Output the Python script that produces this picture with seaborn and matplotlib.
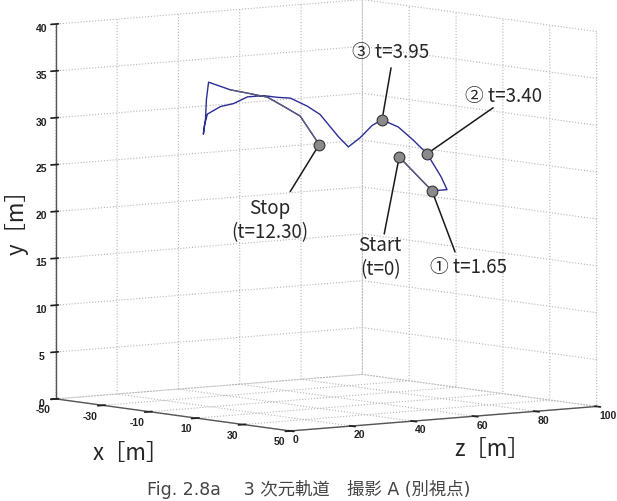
import matplotlib
matplotlib.use("Agg")
from matplotlib import pyplot as plt
from mpl_toolkits.mplot3d import proj3d
import numpy as np
import pandas as pd
import seaborn as sns

# trajectory (metres): x lateral, y height, z forward
traj_x = [0, 0, 0, 0, 0, 0, 0, 0, 0, 0, 0, 0, 0, 0, 0, 0, 0, 0, 0, 0, 0,
          0, 0, 0, 0, 0, 0, 0, 0, 0, 0, 0, 0, 0]
traj_y = [25.6, 23.7, 21.7, 21.7, 23.1, 25.7, 27.3, 28.8, 29.7, 29.2, 28.0,
          27.1, 28.3, 30.8, 31.8, 32.8, 33.0, 33.3, 33.3, 32.7, 32.5, 31.8,
          30.7, 29.7, 31.3, 33.4, 35.2, 34.2, 33.7, 33.1, 32.0, 30.8, 27.6, 27.6]
traj_z = [73.8, 79.0, 84.5, 89.4, 87.5, 82.9, 78.3, 73.5, 68.2, 65.0, 61.1,
          57.2, 53.9, 48.0, 43.8, 38.3, 34.0, 29.5, 24.3, 19.7, 15.5, 11.2,
          10.3, 9.9, 10.6, 10.9, 11.6, 18.7, 24.3, 30.8, 36.0, 41.5, 47.7, 47.7]
# which parts of the track come out grey rather than blue
traj_part = ["grey"] * 3 + ["blue"] * 24 + ["grey"] * 7

# marked instants
event_labels = ["Start\n(t=0)", "① t=1.65", "② t=3.40", "③ t=3.95", "Stop\n(t=12.30)"]
event_x = [0, 0, 0, 0, 0]
event_y = [25.6, 21.7, 25.7, 29.7, 27.6]
event_z = [73.8, 84.5, 82.9, 68.2, 47.7]

x_ticks = [-50, -30, -10, 10, 30, 50]
z_ticks = [0, 20, 40, 60, 80, 100]
y_ticks = [0, 5, 10, 15, 20, 25, 30, 35, 40]

caption = "Fig. 2.8a\u3000 3 次元軌道\u3000撮影 A (別視点)"

# leader line end / label centre, pixels from the marker
line_off = [(-15, -77), (23, -61), (66, 46), (9, 52), (-29, -47)]
text_off = [(-19, -101), (36, -77), (76, 57), (9, 67), (-49, -76)]

sns.set_theme(style="white")
plt.rcParams["font.family"] = ["Liberation Sans", "DejaVu Sans"]
plt.rcParams["font.weight"] = "bold"
plt.rcParams["axes.unicode_minus"] = False
plt.rcParams["grid.color"] = "#b5b5b5"
plt.rcParams["grid.linestyle"] = ":"
plt.rcParams["grid.linewidth"] = 0.8
cjk = ["Noto Sans CJK JP", "DejaVu Sans"]

df = pd.DataFrame({"x": traj_x, "y": traj_y, "z": traj_z, "part": traj_part})

fig = plt.figure(figsize=(6.17, 5.01), dpi=100)
S = 501
cx, cy = 319.5, 279
ax = fig.add_axes([(cx - S / 2) / 617, (cy - S / 2) / 501, S / 617, S / 501],
                  projection="3d", computed_zorder=False)
ax.set_proj_type("ortho")
ax.view_init(elev=6, azim=-37.4)
ax.set_box_aspect((1, 1, 0.977), zoom=1.285)

ax.set_xlim(-50, 50)
ax.set_ylim(0, 100)
ax.set_zlim(0, 40)
ax.set_xticks(x_ticks)
ax.set_yticks(z_ticks)
ax.set_zticks(y_ticks)
ax.tick_params(labelsize=7.5, colors="#222222")
ax.zaxis.set_ticks_position("lower")
ax.xaxis.set_tick_params(pad=-5)
ax.yaxis.set_tick_params(pad=-6)
ax.zaxis.set_tick_params(pad=-3)
plt.setp(ax.get_xticklabels(), ha="right")
plt.setp(ax.get_yticklabels(), ha="left")

for a in (ax.xaxis, ax.yaxis, ax.zaxis):
    a.set_pane_color((1, 1, 1, 0))
    a.pane.set_edgecolor((1, 1, 1, 0))
    a.line.set_color("#555555")
    a.line.set_linewidth(1.0)
    a._axinfo["grid"].update(color="#b5b5b5", linestyle=":", linewidth=0.8)

# whole track in blue, grey stretches drawn over it
ax.plot(df["x"], df["z"], df["y"], color="#2c2c98", lw=1.0, zorder=2)
grey = df["part"] == "grey"
for seg in (df[grey].iloc[:3], df[grey].iloc[3:]):
    ax.plot(seg["x"], seg["z"], seg["y"], color="#5e5e78", lw=0.9, zorder=2)

ax.scatter(event_x, event_z, event_y, s=60, c="#8a8a8a", edgecolors="#333333",
           linewidths=0.8, depthshade=False, zorder=5)

M = ax.get_proj()
for ex, ey, ez, lab, lo, to in zip(event_x, event_y, event_z, event_labels, line_off, text_off):
    px, py, _ = proj3d.proj_transform(ex, ez, ey, M)
    ax.annotate("", xy=(px, py), xytext=lo, textcoords="offset pixels",
                arrowprops=dict(arrowstyle="-", color="#1a1a1a", lw=1.1,
                                shrinkA=0, shrinkB=4), zorder=3)
    ax.annotate(lab, xy=(px, py), xytext=to, textcoords="offset pixels",
                ha="center", va="center", fontsize=13.5, family=cjk,
                fontweight="normal", linespacing=1.2, zorder=6)

fig.text(131 / 617, 1 - 453 / 501, "x［m］", ha="center", va="center",
         fontsize=16, family=cjk, fontweight="normal")
fig.text(492 / 617, 1 - 450 / 501, "z［m］", ha="center", va="center",
         fontsize=16, family=cjk, fontweight="normal")
fig.text(17 / 617, 1 - 217 / 501, "y［m］", ha="center", va="center",
         rotation=90, fontsize=16, family=cjk, fontweight="normal")
fig.text(0.5, 2 / 501, caption, ha="center", va="bottom", fontsize=12.5,
         family=["DejaVu Sans", "Noto Sans CJK JP"], fontweight="normal",
         color="#444444")

fig.savefig("out.png", dpi=100)
